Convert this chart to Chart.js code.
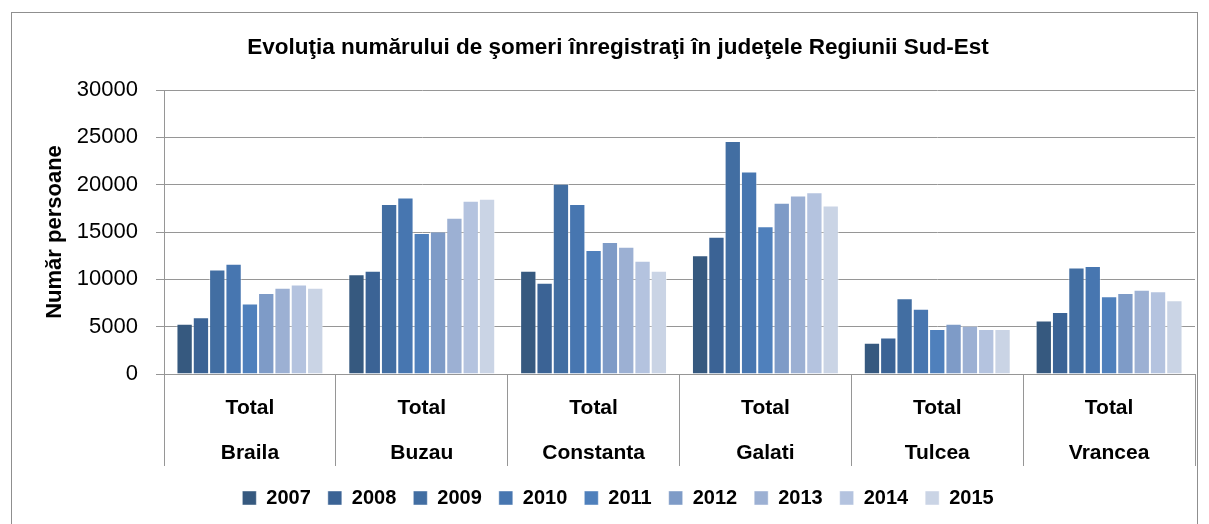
<!DOCTYPE html>
<html lang="ro">
<head>
<meta charset="UTF-8">
<title>Evoluţia numărului de şomeri</title>
<script src="https://cdn.jsdelivr.net/npm/chart.js"></script>
<style>
    html, body {
        margin: 0;
        padding: 0;
        background: #ffffff;
    }
    .wrap {
        position: relative;
        width: 1209px;
        height: 524px;
    }
    .frame {
        position: absolute;
        left: 11px;
        top: 12px;
        width: 1187px;
        height: 520px;
        border: 1px solid #8f8f8f;
        box-sizing: border-box;
    }
    canvas {
        position: absolute;
        left: 0;
        top: 0;
    }
</style>
</head>
<body>
<div class="wrap">
    <div class="frame"></div>
    <canvas id="chart" width="1209" height="524"></canvas>
</div>
<script>
// Judeţe (categorii) și ani (serii)
const judete = ['Braila', 'Buzau', 'Constanta', 'Galati', 'Tulcea', 'Vrancea'];
const ani = ['2007', '2008', '2009', '2010', '2011', '2012', '2013', '2014', '2015'];

// Număr şomeri pe an, în ordinea judeţelor de mai sus
const v2007 = [5300, 10550, 10900, 12550, 3300, 5650];
const v2008 = [6000, 10900, 9650, 14500, 3850, 6550];
const v2009 = [11050, 17950, 20100, 24600, 8000, 11250];
const v2010 = [11650, 18650, 17950, 21400, 6900, 11400];
const v2011 = [7450, 14900, 13100, 15600, 4750, 8200];
const v2012 = [8550, 15050, 13950, 18100, 5300, 8550];
const v2013 = [9100, 16500, 13450, 18850, 5100, 8900];
const v2014 = [9450, 18300, 11950, 19200, 4750, 8750];
const v2015 = [9100, 18500, 10900, 17800, 4750, 7800];

const yTicks = [0, 5000, 10000, 15000, 20000, 25000, 30000];

const valori = [v2007, v2008, v2009, v2010, v2011, v2012, v2013, v2014, v2015];
const culori = ['#36597f', '#3b6395', '#426ea2', '#4776b0', '#4f80bc', '#7e9bc7', '#9cb0d3', '#b4c3df', '#cad4e5'];

const font = '"Liberation Sans", Arial, sans-serif';
const gri = '#969696';

const ctx = document.getElementById('chart').getContext('2d');
new Chart(ctx, {
    type: 'bar',
    data: {
        labels: judete.map(j => ['Total', j]),
        datasets: ani.map((an, i) => ({
            label: an,
            data: valori[i],
            backgroundColor: culori[i],
            borderColor: 'rgba(255,255,255,0.45)',
            borderWidth: 1,
            categoryPercentage: 0.855,
            barPercentage: 1
        }))
    },
    options: {
        responsive: false,
        animation: false,
        events: [],
        layout: {
            padding: { left: 41, right: 14, top: 0, bottom: 6 }
        },
        plugins: {
            title: {
                display: true,
                text: 'Evoluţia numărului de şomeri înregistraţi în judeţele Regiunii Sud-Est',
                color: '#000',
                font: { family: font, size: 22.5, weight: 'bold', lineHeight: 1.2 },
                padding: { top: 34, bottom: 29 }
            },
            legend: {
                position: 'bottom',
                labels: {
                    color: '#000',
                    boxWidth: 14,
                    boxHeight: 14,
                    padding: 17,
                    font: { family: font, size: 20, weight: 'bold' }
                }
            },
            tooltip: { enabled: false }
        },
        scales: {
            x: {
                grid: {
                    drawOnChartArea: false,
                    drawTicks: true,
                    tickLength: 92,
                    color: gri
                },
                border: { color: gri, width: 1 },
                ticks: {
                    color: '#000',
                    padding: -80,
                    maxRotation: 0,
                    font: { family: font, size: 21, weight: 'bold', lineHeight: 2.14 }
                },
                afterFit: s => { s.height = 97; }
            },
            y: {
                min: 0,
                max: 30000,
                afterBuildTicks: s => { s.ticks = yTicks.map(v => ({ value: v })); },
                grid: {
                    color: gri,
                    tickLength: 8
                },
                border: { color: gri, width: 1 },
                ticks: {
                    color: '#000',
                    padding: 18,
                    font: { family: font, size: 22 },
                    callback: v => String(v)
                },
                title: {
                    display: true,
                    text: 'Număr persoane',
                    color: '#000',
                    font: { family: font, size: 22, weight: 'bold', lineHeight: 1.2 },
                    padding: { top: 1, bottom: 0 }
                },
                afterFit: s => { s.width = 123; }
            }
        }
    }
});
</script>
</body>
</html>
